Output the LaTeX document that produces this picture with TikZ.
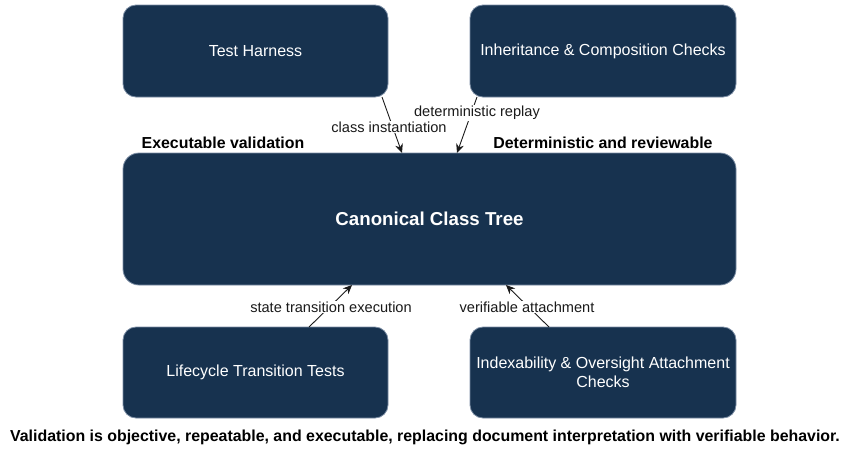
\documentclass[tikz,border=0pt]{standalone}
\usepackage{fontspec}
\setmainfont{Liberation Sans}
\usetikzlibrary{arrows.meta,calc}
\definecolor{navy}{HTML}{17324F}
\definecolor{navyedge}{HTML}{7A8CA3}
\definecolor{ink}{HTML}{1A1A1A}
\tikzset{
  x=1pt, y=-1pt,
  block/.style={draw=navyedge, line width=0.8pt, fill=navy, rounded corners=13pt,
    text=white, font=\fontsize{16}{19}\selectfont, align=center,
    minimum width=265pt, minimum height=92pt, inner sep=0pt, outer sep=0pt},
  link/.style={draw=ink, line width=0.9pt, -{Stealth[length=9pt,width=8pt]}},
  linklabel/.style={fill=white, inner sep=1pt, text=ink, font=\fontsize{14.6}{17}\selectfont},
  heading/.style={text=black, font=\bfseries\fontsize{15.9}{18}\selectfont, inner sep=0pt},
}
\begin{document}
\begin{tikzpicture}
\useasboundingbox (0,0) rectangle (849,448);

% blocks
\node[block] (harness) at (255.5,51) {Test Harness};
\node[block, minimum width=266pt] (inherit) at (603,51) {Inheritance \& Composition Checks};
\node[block, rounded corners=16pt, minimum width=613pt, minimum height=132pt,
      font=\bfseries\fontsize{18.7}{22}\selectfont] (tree) at (429.5,219) {Canonical Class Tree};
\node[block, minimum height=91pt] (lifecycle) at (255.5,372.5) {Lifecycle Transition Tests};
\node[block, minimum width=266pt, minimum height=91pt] (index) at (603,372.5) {Indexability \& Oversight Attachment\\Checks};

% connectors with their labels
\draw[link] ($(harness.south)+(126.5,0)$) -- ($(tree.north)+(-27.5,0)$);
\node[linklabel] (lblA) at (389,127) {class instantiation};

\draw[link] ($(inherit.south)+(-126,0)$) -- ($(tree.north)+(27.5,0)$);
\node[linklabel] (lblB) at (477,113) {deterministic replay};

\draw[link] ($(lifecycle.north)+(53.5,0)$) -- ($(tree.south)+(-77.5,0)$);
\node[linklabel] (lblC) at (331,307) {state transition execution};

\draw[link] ($(index.north)+(-54,0)$) -- ($(tree.south)+(76.5,0)$);
\node[linklabel] (lblD) at (527,307) {verifiable attachment};

% headings
\node[heading] (leftHead) at (223,143) {Executable validation};
\node[heading] (rightHead) at (603,143) {Deterministic and reviewable};

% caption
\node[heading] (caption) at (425,437) {Validation is objective, repeatable, and executable, replacing document interpretation with verifiable behavior.};
\end{tikzpicture}
\end{document}
